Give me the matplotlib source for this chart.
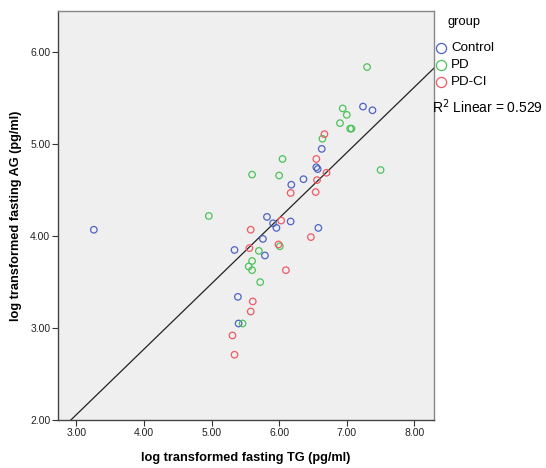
import matplotlib
matplotlib.use("Agg")
import matplotlib.pyplot as plt
import numpy as np
from matplotlib.lines import Line2D

plt.rcParams['font.family'] = ['Liberation Sans', 'DejaVu Sans']

# ---- data ----
control_x = [3.26, 5.34, 5.39, 5.40, 5.76, 5.79, 5.82, 5.91, 5.96, 6.17, 6.18, 6.36, 6.55, 6.57, 6.58, 6.63, 7.24, 7.38]
control_y = [4.07, 3.85, 3.34, 3.05, 3.97, 3.79, 4.21, 4.14, 4.09, 4.16, 4.56, 4.62, 4.75, 4.73, 4.09, 4.95, 5.41, 5.37]

pd_x = [4.96, 5.46, 5.55, 5.60, 5.60, 5.60, 5.70, 5.72, 6.00, 6.01, 6.05, 6.64, 6.90, 6.94, 7.00, 7.05, 7.07, 7.30, 7.50]
pd_y = [4.22, 3.05, 3.67, 3.73, 3.63, 4.67, 3.84, 3.50, 4.66, 3.89, 4.84, 5.06, 5.23, 5.39, 5.32, 5.17, 5.17, 5.84, 4.72]

pdci_x = [5.31, 5.34, 5.56, 5.58, 5.58, 5.61, 5.99, 6.03, 6.10, 6.17, 6.47, 6.54, 6.55, 6.56, 6.67, 6.70]
pdci_y = [2.92, 2.71, 3.87, 4.07, 3.18, 3.29, 3.91, 4.17, 3.63, 4.47, 3.99, 4.48, 4.84, 4.61, 5.11, 4.69]

groups = ["Control", "PD", "PD-CI"]
legend_title = "group"
fit_slope = 0.713
fit_intercept = -0.082
r2_text = "R$^2$ Linear = 0.529"

x_ticks = [3.0, 4.0, 5.0, 6.0, 7.0, 8.0]
y_ticks = [2.0, 3.0, 4.0, 5.0, 6.0]
x_label = "log transformed fasting TG (pg/ml)"
y_label = "log transformed fasting AG (pg/ml)"

colors = ["#4f63c4", "#4cc35a", "#ef5a64"]

W, H = 546, 468

# ---- figure ----
fig = plt.figure(figsize=(5.46, 4.68), dpi=100)
ax = fig.add_axes([58/W, 1-420/H, (434-58)/W, (420-11)/H])
ax.set_facecolor("#efefef")

series = [(control_x, control_y), (pd_x, pd_y), (pdci_x, pdci_y)]
for (xs, ys), c, g in zip(series, colors, groups):
    ax.scatter(xs, ys, s=22, facecolors='none', edgecolors=c, linewidths=0.9, label=g, zorder=3)

xl = np.array([2.73, 8.29])
ax.plot(xl, fit_slope * xl + fit_intercept, color="#222222", lw=0.9, zorder=2)

ax.set_xlim(2.73, 8.29)
ax.set_ylim(2.0, 6.45)
ax.set_xticks(x_ticks)
ax.set_yticks(y_ticks)
ax.set_xticklabels([f"{v:.2f}" for v in x_ticks], fontsize=7.5, color="#222222")
ax.set_yticklabels([f"{v:.2f}" for v in y_ticks], fontsize=7.5, color="#222222")
ax.tick_params(direction='out', length=4, width=0.8, color="#333333", pad=1.5)
ax.tick_params(top=False, right=False)

for side in ['top', 'right']:
    ax.spines[side].set_color("#888888")
    ax.spines[side].set_linewidth(1.0)
for side in ['left', 'bottom']:
    ax.spines[side].set_color("#444444")
    ax.spines[side].set_linewidth(1.0)

ax.set_xlabel(x_label, fontsize=9.2, fontweight='bold', labelpad=10)
ax.set_ylabel(y_label, fontsize=9.2, fontweight='bold', labelpad=6)

# ---- legend (manual placement) ----
fig.text(448/W, 1-22/H, legend_title, fontsize=9.3, va='center', ha='left')
entry_y = [48, 65, 82]
for g, c, yy in zip(groups, colors, entry_y):
    fig.add_artist(Line2D([441/W], [1-yy/H], transform=fig.transFigure, marker='o',
                          linestyle='none', markerfacecolor='none', markeredgecolor=c,
                          markersize=7.3, markeredgewidth=0.9))
    fig.text(451/W, 1-yy/H, g, fontsize=9.6, va='center', ha='left')

fig.text(432/W, 1-107/H, r2_text, fontsize=10, va='center', ha='left')

fig.savefig("out.png", dpi=100)
